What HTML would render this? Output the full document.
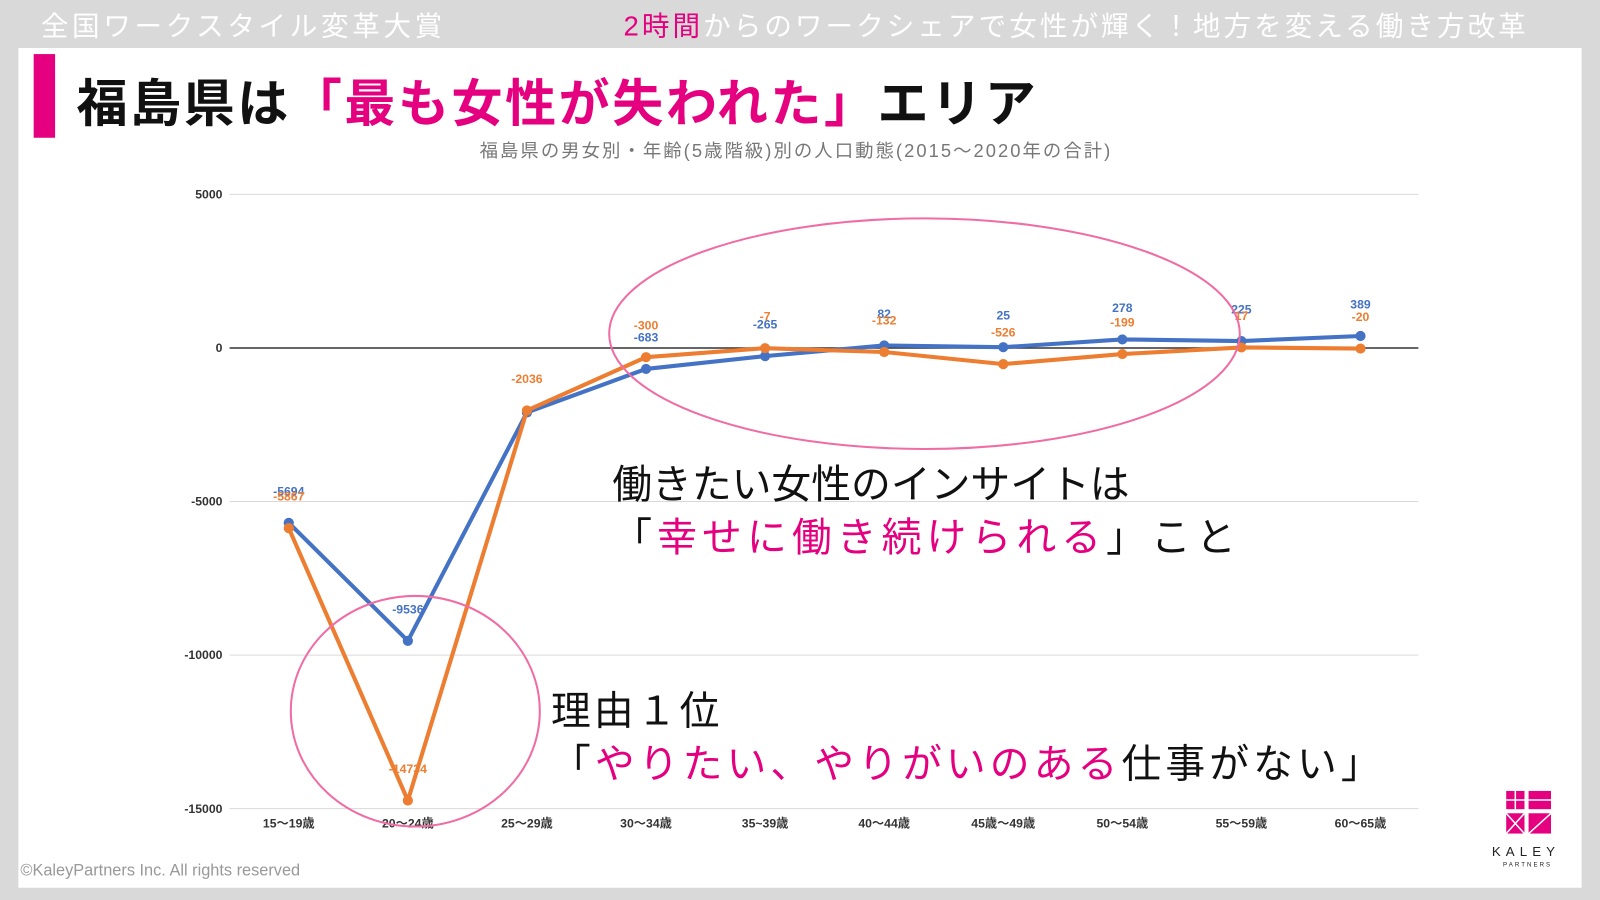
<!DOCTYPE html>
<html><head><meta charset="utf-8"><style>
body{margin:0;width:1600px;height:900px;overflow:hidden;background:#d9d9d9;font-family:"Liberation Sans","Noto Sans CJK JP",sans-serif}
#wrap{position:absolute;left:0;top:0;width:1568px;height:882px;transform:scale(1.020408,1.020408);transform-origin:0 0}
.abs{position:absolute;white-space:nowrap}
.pk{color:#e4007f}
</style></head><body>
<div id="wrap">
<div class="abs" style="left:40px;top:4px;font-size:27px;letter-spacing:3.6px;color:#fff">全国ワークスタイル変革大賞</div>
<div class="abs" style="left:611px;top:4px;font-size:27px;letter-spacing:3px;color:#fff"><span class="pk">2時間</span>からのワークシェアで女性が輝く！地方を変える働き方改革</div>
<div class="abs" style="left:18px;top:47px;width:1532px;height:823px;background:#fff"></div>
<div class="abs" style="left:33px;top:53px;width:21px;height:82px;background:#e4007f"></div>
<div class="abs" style="left:75px;top:62px;font-size:50px;letter-spacing:2.5px;font-weight:bold;color:#111">福島県は<span class="pk">「最も女性が失われた」</span>エリア</div>
<div class="abs" style="left:470px;top:134px;font-size:18px;letter-spacing:2px;color:#777">福島県の男女別・年齢(5歳階級)別の人口動態(2015～2020年の合計)</div>
<svg class="abs" style="left:0;top:0" width="1568" height="882" id="chart"></svg>
<div class="abs" style="left:600px;top:450px;font-size:39px;line-height:52px;color:#111">働きたい女性のインサイトは<br><span style="letter-spacing:5px">「<span class="pk">幸せに働き続けられる</span>」こと</span></div>
<div class="abs" style="left:540px;top:672px;font-size:39px;line-height:52px;color:#111"><span style="letter-spacing:3px">理由１位</span><br><span style="letter-spacing:4px">「<span class="pk">やりたい、やりがいのある</span>仕事がない」</span></div>
<div class="abs" style="left:20px;top:845px;font-size:16px;color:#999">©KaleyPartners Inc. All rights reserved</div>
<svg class="abs" style="left:1476px;top:775px" width="44" height="42">
<rect x="0" y="0" width="18" height="18" fill="#e4007f"/><rect x="22" y="0" width="22" height="18" fill="#e4007f"/>
<rect x="0" y="22" width="18" height="20" fill="#e4007f"/><rect x="22" y="22" width="22" height="20" fill="#e4007f"/>
<path d="M9 0V18M0 9H18M22 9H44M0 22L18 42M18 22L0 42M44 22L22 42" stroke="#fff" stroke-width="1.5"/></svg>
<div class="abs" style="left:1462px;top:827px;font-size:13px;letter-spacing:5px;color:#222">KALEY</div>
<div class="abs" style="left:1473px;top:845px;font-size:6px;letter-spacing:2px;color:#222">PARTNERS</div>
</div>
<script>
const categories=["15～19歳","20～24歳","25～29歳","30～34歳","35~39歳","40～44歳","45歳～49歳","50～54歳","55～59歳","60～65歳"];
const maleValues=[-5694,-9536,-2100,-683,-265,82,25,278,225,389];
const femaleValues=[-5867,-14734,-2036,-300,-7,-132,-526,-199,17,-20];
const yTicks=[5000,0,-5000,-10000,-15000];
const ns="http://www.w3.org/2000/svg";
const svg=document.getElementById('chart');
const X=i=>283+i*116.7;
const Y=v=>341-v*150.5/5000;
function mk(t,a,p){const e=document.createElementNS(ns,t);for(const k in a)e.setAttribute(k,a[k]);(p||svg).appendChild(e);return e;}
yTicks.forEach(t=>{
 const g=mk('line',{x1:225,x2:1390,y1:Y(t),y2:Y(t),stroke:t===0?'#333':'#d9d9d9','stroke-width':t===0?1.5:1});
 
 
 const l=mk('text',{x:218,y:Y(t)+4,'text-anchor':'end','font-size':12,'font-weight':'bold',fill:'#333'});l.textContent=t;
 
 
});
categories.forEach((c,i)=>{
 const l=mk('text',{x:X(i),y:811,'text-anchor':'middle','font-size':12,'font-weight':'bold',fill:'#333'});l.textContent=c;
 
 
});
function series(vals,col,name,skip){
 const p=mk('polyline',{points:vals.map((v,i)=>X(i)+','+Y(v)).join(' '),fill:'none',stroke:col,'stroke-width':4,'stroke-linejoin':'round'});
 
 
 vals.forEach((v,i)=>{
  const c=mk('circle',{cx:X(i),cy:Y(v),r:5,fill:col});
  
  
  if(i===skip)return;
  const t=mk('text',{x:X(i),y:Y(v)-27,'text-anchor':'middle','font-size':12,'font-weight':'bold',fill:col});
  t.textContent=v;
  
  
 });
}
series(maleValues,'#4472c4','male',2);
series(femaleValues,'#ed7d31','female',-1);
const e1=mk('ellipse',{cx:906,cy:327,rx:309,ry:113,fill:'none',stroke:'#f06ca4','stroke-width':2});


const e2=mk('ellipse',{cx:407,cy:697,rx:122,ry:113,fill:'none',stroke:'#f06ca4','stroke-width':2});


</script>
</body></html>
